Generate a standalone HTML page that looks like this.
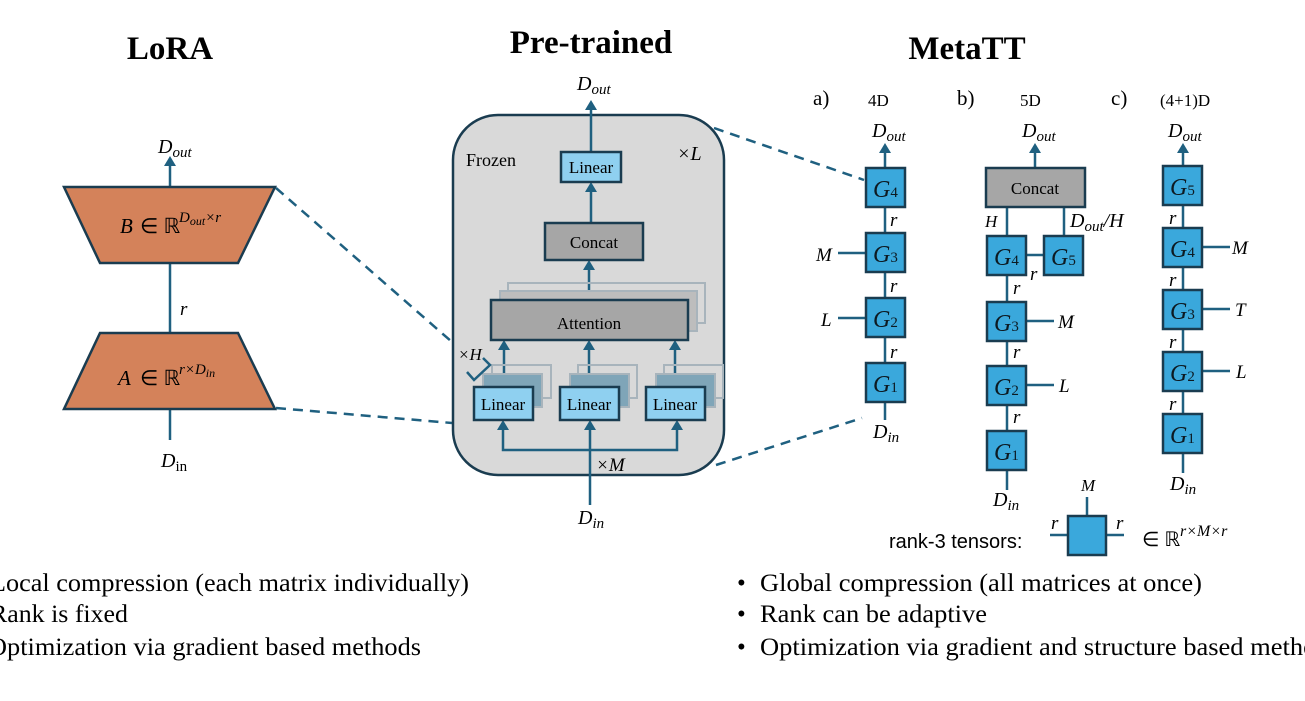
<!DOCTYPE html>
<html><head><meta charset="utf-8"><style>
body{margin:0;background:#fff;width:1305px;height:701px;overflow:hidden}
svg{display:block}
text{font-family:"Liberation Serif",serif}
.i{font-style:italic}
.s{font-family:"Liberation Sans",sans-serif}
</style></head><body>
<svg width="1305" height="701" viewBox="0 0 1305 701">
<g stroke="#1f6080" stroke-width="2.5" fill="none" stroke-dasharray="10,7">
<line x1="276" y1="188" x2="452" y2="342"/>
<line x1="276" y1="408" x2="452" y2="423"/>
<line x1="714" y1="128" x2="864" y2="180"/>
<line x1="716" y1="465" x2="862" y2="418"/>
</g>
<!-- titles -->
<text x="170" y="59" font-size="33" font-weight="bold" text-anchor="middle">LoRA</text>
<text x="591" y="53" font-size="33" font-weight="bold" text-anchor="middle">Pre-trained</text>
<text x="967" y="59" font-size="33" font-weight="bold" text-anchor="middle">MetaTT</text>
<!-- LoRA -->
<g stroke="#1f6080" stroke-width="2.5">
<line x1="170" y1="187" x2="170" y2="164"/>
<line x1="170" y1="263" x2="170" y2="333"/>
<line x1="170" y1="409" x2="170" y2="440"/>
</g>
<path d="M164,166 L170,156 L176,166 z" fill="#1f6080"/>
<polygon points="64,187 275,187 238,263 100,263" fill="#d4825a" stroke="#1a3c50" stroke-width="2.5"/>
<polygon points="100,333 238,333 275,409 64,409" fill="#d4825a" stroke="#1a3c50" stroke-width="2.5"/>
<text x="120" y="233" font-size="21" class="i">B</text><text x="140" y="233" font-size="21">∈ ℝ</text><text x="179" y="222" font-size="15" class="i">D<tspan font-size="12" dy="3">out</tspan><tspan dy="-3">×r</tspan></text>
<text x="118" y="385" font-size="21" class="i">A</text><text x="140" y="385" font-size="21">∈ ℝ</text><text x="179" y="374" font-size="15" class="i">r×D<tspan font-size="12" dy="3">in</tspan></text>
<text x="180" y="315" font-size="19" class="i">r</text>
<text x="158" y="153" font-size="20" class="i">D<tspan font-size="15" dy="4">out</tspan></text>
<text x="161" y="467" font-size="20" class="i">D<tspan font-size="15" dy="4" font-style="normal">in</tspan></text>
<!-- Pretrained -->
<rect x="453" y="115" width="271" height="360" rx="45" fill="#d9d9d9" stroke="#1a3c50" stroke-width="2.5"/>
<text x="466" y="166" font-size="18">Frozen</text>
<text x="677" y="160" font-size="20" class="i">×L</text>
<g stroke="#1f6080" stroke-width="2.5">
<line x1="591" y1="152" x2="591" y2="108"/>
<line x1="591" y1="223" x2="591" y2="190"/>
<line x1="589" y1="300" x2="589" y2="268"/>
<line x1="590" y1="505" x2="590" y2="428"/>
<polyline points="503,430 503,450 677,450 677,430" fill="none"/>
<line x1="504" y1="387" x2="504" y2="348"/>
<line x1="589" y1="387" x2="589" y2="348"/>
<line x1="675" y1="387" x2="675" y2="348"/>
</g>
<g fill="#1f6080">
<path d="M585,110 L591,100 L597,110z"/><path d="M585,192 L591,182 L597,192z"/><path d="M583,270 L589,260 L595,270z"/>
<path d="M584,430 L590,420 L596,430z"/><path d="M497,430 L503,420 L509,430z"/><path d="M671,430 L677,420 L683,430z"/>
<path d="M498,350 L504,340 L510,350z"/><path d="M583,350 L589,340 L595,350z"/><path d="M669,350 L675,340 L681,350z"/>
</g>
<g fill="none" stroke="#a8b4bc" stroke-width="2">
<rect x="508" y="283" width="197" height="40"/><rect x="500" y="291" width="197" height="40" fill="#bdbdbd"/>
<rect x="492" y="365" width="59" height="33"/><rect x="578" y="365" width="59" height="33"/><rect x="664" y="365" width="59" height="33"/>
<rect x="483" y="374" width="59" height="33" fill="#7fa5b8"/><rect x="570" y="374" width="59" height="33" fill="#7fa5b8"/><rect x="656" y="374" width="59" height="33" fill="#7fa5b8"/>
</g>
<rect x="561" y="152" width="60" height="30" fill="#8fd0f0" stroke="#1a3c50" stroke-width="2.5"/>
<text x="591" y="173" font-size="17" text-anchor="middle">Linear</text>
<rect x="545" y="223" width="98" height="37" fill="#a6a6a6" stroke="#1a3c50" stroke-width="2.5"/>
<text x="594" y="248" font-size="17" text-anchor="middle">Concat</text>
<rect x="491" y="300" width="197" height="40" fill="#a6a6a6" stroke="#1a3c50" stroke-width="2.5"/>
<text x="589" y="329" font-size="17" text-anchor="middle">Attention</text>
<g fill="#8fd0f0" stroke="#1a3c50" stroke-width="2.5">
<rect x="474" y="387" width="59" height="33"/><rect x="560" y="387" width="59" height="33"/><rect x="646" y="387" width="59" height="33"/>
</g>
<g font-size="17" text-anchor="middle"><text x="503" y="410">Linear</text><text x="589" y="410">Linear</text><text x="675" y="410">Linear</text></g>
<path d="M467,372 L474,380 L490,365 L483,358" fill="none" stroke="#1f6080" stroke-width="2.5"/>
<text x="458" y="360" font-size="17" class="i">×H</text>
<text x="596" y="471" font-size="19" class="i">×M</text>
<text x="577" y="90" font-size="20" class="i">D<tspan font-size="15" dy="4">out</tspan></text>
<text x="578" y="524" font-size="20" class="i">D<tspan font-size="15" dy="4">in</tspan></text>
<!-- MetaTT lines -->
<g stroke="#1f6080" stroke-width="2.5">
<line x1="885" y1="150" x2="885" y2="420"/>
<line x1="838" y1="253" x2="866" y2="253"/><line x1="838" y1="318" x2="866" y2="318"/>
<line x1="1035" y1="150" x2="1035" y2="168"/>
<line x1="1007" y1="207" x2="1007" y2="490"/><line x1="1064" y1="207" x2="1064" y2="236"/>
<line x1="1026" y1="255" x2="1044" y2="255"/>
<line x1="1026" y1="321" x2="1054" y2="321"/><line x1="1026" y1="385" x2="1054" y2="385"/>
<line x1="1183" y1="150" x2="1183" y2="473"/>
<line x1="1202" y1="247" x2="1230" y2="247"/><line x1="1202" y1="309" x2="1230" y2="309"/><line x1="1202" y1="371" x2="1230" y2="371"/>
<line x1="1050" y1="535" x2="1068" y2="535"/><line x1="1106" y1="535" x2="1124" y2="535"/><line x1="1087" y1="497" x2="1087" y2="516"/>
</g>
<g fill="#1f6080"><path d="M879,153 L885,143 L891,153z"/><path d="M1029,153 L1035,143 L1041,153z"/><path d="M1177,153 L1183,143 L1189,153z"/></g>
<rect x="986" y="168" width="99" height="39" fill="#a6a6a6" stroke="#1a3c50" stroke-width="2.5"/>
<text x="1035" y="194" font-size="17" text-anchor="middle">Concat</text>
<g fill="#3aa8dc" stroke="#1a3c50" stroke-width="2.5">
<rect x="866" y="168" width="39" height="39"/><rect x="866" y="233" width="39" height="39"/><rect x="866" y="298" width="39" height="39"/><rect x="866" y="363" width="39" height="39"/>
<rect x="987" y="236" width="39" height="39"/><rect x="1044" y="236" width="39" height="39"/><rect x="987" y="302" width="39" height="39"/><rect x="987" y="366" width="39" height="39"/><rect x="987" y="431" width="39" height="39"/>
<rect x="1163" y="166" width="39" height="39"/><rect x="1163" y="228" width="39" height="39"/><rect x="1163" y="290" width="39" height="39"/><rect x="1163" y="352" width="39" height="39"/><rect x="1163" y="414" width="39" height="39"/>
<rect x="1068" y="516" width="38" height="39"/>
</g>
<g font-size="24" class="i" fill="#0d1a22">
<text x="873" y="197">G<tspan font-size="15" font-style="normal">4</tspan></text><text x="873" y="262">G<tspan font-size="15" font-style="normal">3</tspan></text><text x="873" y="327">G<tspan font-size="15" font-style="normal">2</tspan></text><text x="873" y="392">G<tspan font-size="15" font-style="normal">1</tspan></text>
<text x="994" y="265">G<tspan font-size="15" font-style="normal">4</tspan></text><text x="1051" y="265">G<tspan font-size="15" font-style="normal">5</tspan></text><text x="994" y="331">G<tspan font-size="15" font-style="normal">3</tspan></text><text x="994" y="395">G<tspan font-size="15" font-style="normal">2</tspan></text><text x="994" y="460">G<tspan font-size="15" font-style="normal">1</tspan></text>
<text x="1170" y="195">G<tspan font-size="15" font-style="normal">5</tspan></text><text x="1170" y="257">G<tspan font-size="15" font-style="normal">4</tspan></text><text x="1170" y="319">G<tspan font-size="15" font-style="normal">3</tspan></text><text x="1170" y="381">G<tspan font-size="15" font-style="normal">2</tspan></text><text x="1170" y="443">G<tspan font-size="15" font-style="normal">1</tspan></text>
</g>
<g font-size="19" class="i">
<text x="890" y="226">r</text><text x="890" y="292">r</text><text x="890" y="358">r</text>
<text x="816" y="261">M</text><text x="821" y="326">L</text>
<text x="1013" y="294">r</text><text x="1030" y="280">r</text><text x="1013" y="358">r</text><text x="1013" y="423">r</text>
<text x="1058" y="328">M</text><text x="1059" y="392">L</text>
<text x="985" y="227" font-size="17">H</text>
<text x="1070" y="227" font-size="20">D<tspan font-size="15" dy="4">out</tspan><tspan dy="-4">/H</tspan></text>
<text x="1169" y="224">r</text><text x="1169" y="286">r</text><text x="1169" y="348">r</text><text x="1169" y="410">r</text>
<text x="1232" y="254">M</text><text x="1235" y="316">T</text><text x="1236" y="378">L</text>
<text x="872" y="137" font-size="20">D<tspan font-size="15" dy="4">out</tspan></text>
<text x="1022" y="137" font-size="20">D<tspan font-size="15" dy="4">out</tspan></text>
<text x="1168" y="137" font-size="20">D<tspan font-size="15" dy="4">out</tspan></text>
<text x="873" y="438" font-size="20">D<tspan font-size="15" dy="4">in</tspan></text>
<text x="993" y="506" font-size="20">D<tspan font-size="15" dy="4">in</tspan></text>
<text x="1170" y="490" font-size="20">D<tspan font-size="15" dy="4">in</tspan></text>
<text x="1081" y="491" font-size="17">M</text>
<text x="1051" y="529">r</text><text x="1116" y="529">r</text>
</g>
<g class="s" font-size="21"><text x="813" y="105">a)</text><text x="957" y="105">b)</text><text x="1111" y="105">c)</text></g>
<g font-size="17"><text x="868" y="106">4D</text><text x="1020" y="106">5D</text><text x="1160" y="106">(4+1)D</text></g>
<text x="889" y="548" class="s" font-size="20">rank-3 tensors:</text>
<text x="1142" y="546" font-size="20">∈ ℝ</text><text x="1180" y="536" font-size="16" class="i">r×M×r</text>
<!-- bullets -->
<g font-size="25">
<text x="-10" y="591" textLength="479" lengthAdjust="spacingAndGlyphs">Local compression (each matrix individually)</text>
<text x="-10" y="622" textLength="138" lengthAdjust="spacingAndGlyphs">Rank is fixed</text>
<text x="-12" y="655" textLength="433" lengthAdjust="spacingAndGlyphs">Optimization via gradient based methods</text>
<text x="737" y="591">•</text><text x="760" y="591" textLength="442" lengthAdjust="spacingAndGlyphs">Global compression (all matrices at once)</text>
<text x="737" y="622">•</text><text x="760" y="622" textLength="227" lengthAdjust="spacingAndGlyphs">Rank can be adaptive</text>
<text x="737" y="655">•</text><text x="760" y="655" textLength="580" lengthAdjust="spacingAndGlyphs">Optimization via gradient and structure based methods</text>
</g>
</svg>
</body></html>
